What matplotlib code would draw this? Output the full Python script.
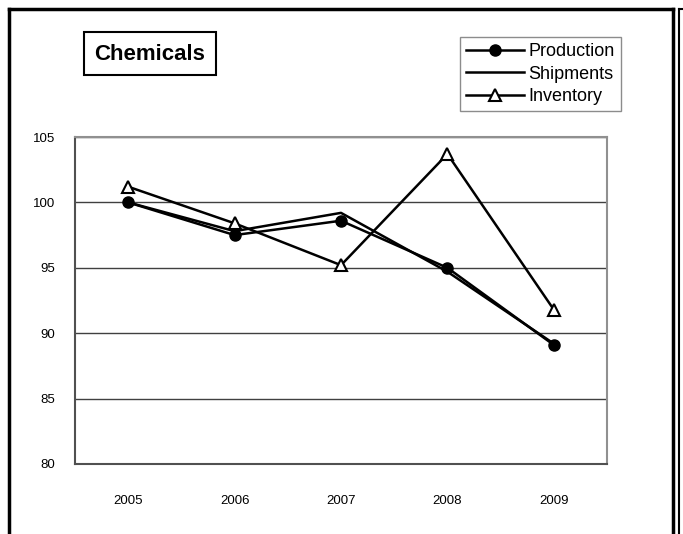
import matplotlib
matplotlib.use("Agg")
import matplotlib.pyplot as plt
from matplotlib.lines import Line2D
from matplotlib.patches import Rectangle

# データ
years = ["2005", "2006", "2007", "2008", "2009"]
production = [100.0, 97.5, 98.6, 95.0, 89.1]
shipments = [100.0, 97.8, 99.2, 94.7, 89.2]
inventory = [101.2, 98.4, 95.2, 103.7, 91.8]
y_ticks = [80, 85, 90, 95, 100, 105]

plt.rcParams['font.family'] = ['Liberation Sans', 'DejaVu Sans']

W, H = 683, 534
fig = plt.figure(figsize=(W / 100, H / 100), dpi=100)
fig.patch.set_facecolor("white")

def px(x0, y0, x1, y1):
    # pixel box -> figure fraction [left, bottom, width, height]
    return [x0 / W, 1 - y1 / H, (x1 - x0) / W, (y1 - y0) / H]

ax = fig.add_axes(px(75, 137, 607, 464))
x = list(range(len(years)))

ax.plot(x, production, color="black", lw=1.8, marker="o", ms=8, zorder=5)
ax.plot(x, shipments, color="black", lw=1.8, zorder=4)
ax.plot(x, inventory, color="black", lw=1.8, marker="^", ms=8,
        markerfacecolor="white", markeredgecolor="black", mew=1.5, zorder=6)

ax.set_xlim(-0.5, len(years) - 0.5)
ax.set_ylim(80, 105)
ax.set_yticks(y_ticks)
ax.set_xticks(x)
ax.set_xticklabels(years)
ax.yaxis.grid(True, color="#404040", lw=1.0)
ax.set_axisbelow(True)
ax.tick_params(axis="both", length=0, labelsize=9.5, colors="black")
ax.tick_params(axis="x", pad=22)
ax.tick_params(axis="y", pad=14)

for s in ["top", "right"]:
    ax.spines[s].set_color("#909090")
    ax.spines[s].set_linewidth(1.5)
for s in ["left", "bottom"]:
    ax.spines[s].set_color("#505050")
    ax.spines[s].set_linewidth(1.5)

# タイトル枠
fig.add_artist(Rectangle((84 / W, 1 - 75 / H), 132 / W, 43 / H,
                         transform=fig.transFigure, fc="white", ec="black", lw=1.5))
fig.text(150 / W, 1 - 54 / H, "Chemicals", fontsize=16, fontweight="bold",
         ha="center", va="center")

# 凡例
handles = [
    Line2D([], [], color="black", lw=1.8, marker="o", ms=8),
    Line2D([], [], color="black", lw=1.8),
    Line2D([], [], color="black", lw=1.8, marker="^", ms=8,
           markerfacecolor="white", mew=1.5),
]
leg = fig.legend(handles, ["Production", "Shipments", "Inventory"],
                 loc="upper left", bbox_to_anchor=(460 / W, 1 - 37 / H),
                 fontsize=13, frameon=True, fancybox=False,
                 handlelength=3.2, handletextpad=0.25, borderpad=0.35,
                 labelspacing=0.3, borderaxespad=0)
leg.get_frame().set_edgecolor("#707070")
leg.get_frame().set_linewidth(1.0)

# 外枠
def fline(xs, ys, lw):
    fig.add_artist(Line2D([v / W for v in xs], [1 - v / H for v in ys],
                          color="black", lw=lw, transform=fig.transFigure))

fline([9, 9], [9, H + 5], 2.5)
fline([9, 672.5], [9, 9], 2.5)
fline([672.5, 672.5], [9, H + 5], 2.5)
fline([678.5, 678.5], [9, H + 5], 1.5)
fline([678.5, W + 5], [9, 9], 1.5)

fig.savefig("out.png", dpi=100, facecolor="white")
